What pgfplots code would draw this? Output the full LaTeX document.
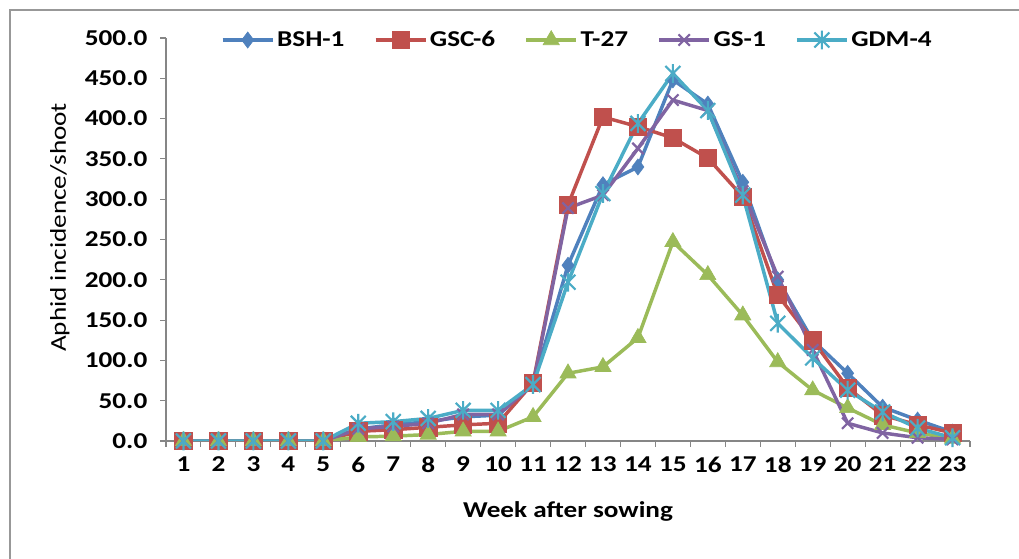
\documentclass[border=0pt]{standalone}
\usepackage{pgfplots}
\pgfplotsset{compat=1.18}
\usepackage{fontspec}
\setmainfont{Carlito}[FakeStretch=1.2]

\definecolor{cBlue}{HTML}{4F81BD}
\definecolor{cRed}{HTML}{C0504D}
\definecolor{cGreen}{HTML}{9BBB59}
\definecolor{cPurple}{HTML}{8064A2}
\definecolor{cCyan}{HTML}{4BACC6}
\definecolor{axgray}{HTML}{868686}

% Excel style star: x plus a vertical bar
\pgfdeclareplotmark{xstar}{%
  \pgfpathmoveto{\pgfqpoint{0pt}{\pgfplotmarksize}}%
  \pgfpathlineto{\pgfqpoint{0pt}{-\pgfplotmarksize}}%
  \pgfpathmoveto{\pgfqpoint{-0.8\pgfplotmarksize}{-0.8\pgfplotmarksize}}%
  \pgfpathlineto{\pgfqpoint{0.8\pgfplotmarksize}{0.8\pgfplotmarksize}}%
  \pgfpathmoveto{\pgfqpoint{-0.8\pgfplotmarksize}{0.8\pgfplotmarksize}}%
  \pgfpathlineto{\pgfqpoint{0.8\pgfplotmarksize}{-0.8\pgfplotmarksize}}%
  \pgfusepathqstroke}

\newcommand{\lbl}{\fontsize{17}{19}\selectfont\bfseries}

\begin{document}
\begin{tikzpicture}
\useasboundingbox (0,0) rectangle (764.25pt,419.25pt);
\draw[line width=2.2pt, color=axgray!85] (7.5pt,-5pt) -- (7.5pt,411.75pt) -- (770pt,411.75pt);

\begin{axis}[
  at={(124.5pt,88.5pt)}, anchor=south west,
  scale only axis, width=603pt, height=302.25pt,
  xmin=0.5, xmax=23.5, ymin=0, ymax=500,
  axis x line*=bottom, axis y line*=left,
  axis line style={draw=axgray, line width=0.8pt},
  tick align=outside,
  xtick={1,...,23},
  major x tick style={draw=none},
  minor xtick={0.5,1.5,...,23.5},
  minor tick length=4.5pt,
  ytick={0,50,...,500},
  major tick length=4.5pt,
  tick style={draw=axgray, line width=0.8pt},
  /pgf/number format/assume math mode=true,
  yticklabel style={xshift=-6pt, /pgf/number format/fixed, /pgf/number format/fixed zerofill, /pgf/number format/precision=1},
  xticklabel style={yshift=-4pt},
  ticklabel style={font=\lbl},
  xlabel={Week after sowing},
  ylabel={Aphid incidence/shoot},
  xlabel style={font=\lbl, at={(axis description cs:0.5,-0.176)}, anchor=center},
  ylabel style={font=\fontsize{17}{19}\selectfont, at={(axis description cs:-0.132,0.53)}, anchor=center},
  legend columns=5,
  legend style={draw=none, fill=none, font=\lbl,
    at={(axis description cs:0.512,0.995)}, anchor=center,
    /tikz/every even column/.append style={column sep=20pt}},
  legend image code/.code={%
    \draw[mark repeat=2,mark phase=2] plot coordinates {(0pt,0pt) (18.75pt,0pt) (37.5pt,0pt)};},
  every axis plot/.append style={line width=2.6pt},
]
\addplot[color=cBlue, mark=diamond*, mark size=6pt, mark options={fill=cBlue, line width=0.5pt}] coordinates {
(1,0) (2,0) (3,0) (4,0) (5,0) (6,15) (7,20) (8,24) (9,30) (10,32) (11,70) (12,218)
(13,318) (14,340) (15,448) (16,418) (17,321) (18,200) (19,125) (20,84) (21,42) (22,26) (23,11)};
\addlegendentry{BSH-1}
\addplot[color=cRed, mark=square*, mark size=6.5pt, mark options={fill=cRed, line width=0.5pt}] coordinates {
(1,0) (2,0) (3,0) (4,0) (5,0) (6,12) (7,14) (8,17) (9,20) (10,22) (11,72) (12,293)
(13,402) (14,390) (15,376) (16,351) (17,303) (18,181) (19,125) (20,66) (21,32) (22,20) (23,10)};
\addlegendentry{GSC-6}
\addplot[color=cGreen, mark=triangle*, mark size=7pt, mark options={fill=cGreen, line width=0.5pt}] coordinates {
(1,0) (2,0) (3,0) (4,0) (5,0) (6,5) (7,6) (8,8) (9,12) (10,12) (11,30) (12,84)
(13,92) (14,128) (15,247) (16,206) (17,156) (18,98) (19,63) (20,41) (21,20) (22,10) (23,3)};
\addlegendentry{T-27}
\addplot[color=cPurple, mark=x, mark size=6pt, mark options={line width=1.6pt}] coordinates {
(1,0) (2,0) (3,0) (4,0) (5,0) (6,15) (7,18) (8,22) (9,33) (10,33) (11,70) (12,289)
(13,305) (14,363) (15,423) (16,410) (17,310) (18,204) (19,113) (20,22) (21,10) (22,4) (23,2)};
\addlegendentry{GS-1}
\addplot[color=cCyan, mark=xstar, mark size=7pt, mark options={line width=1.6pt}] coordinates {
(1,0) (2,0) (3,0) (4,0) (5,0) (6,22) (7,24) (8,28) (9,38) (10,38) (11,70) (12,197)
(13,307) (14,394) (15,456) (16,410) (17,305) (18,146) (19,103) (20,63) (21,36) (22,16) (23,4)};
\addlegendentry{GDM-4}
\end{axis}
\end{tikzpicture}
\end{document}
